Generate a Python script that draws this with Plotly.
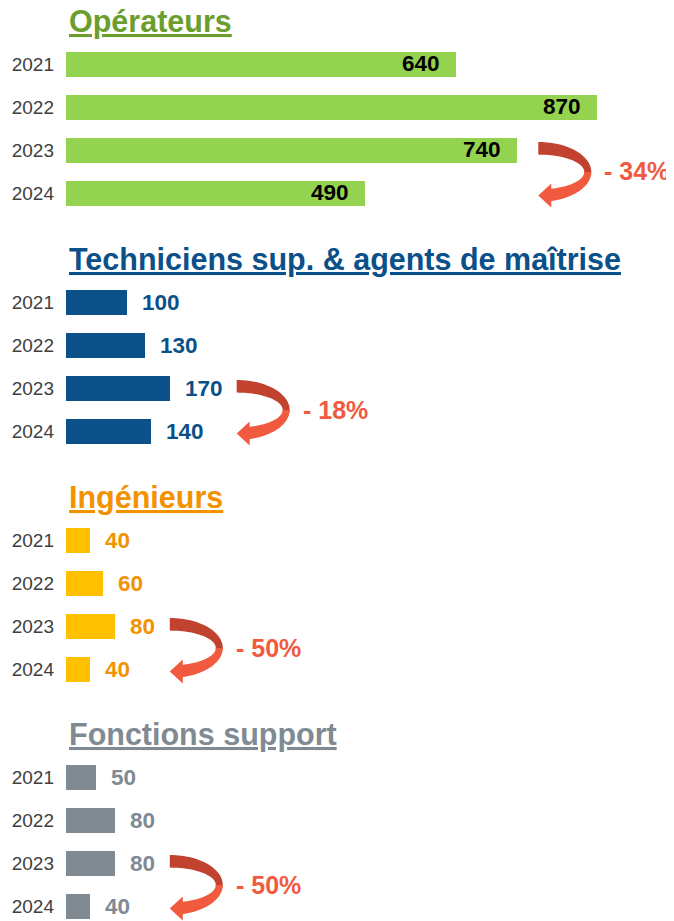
import numpy as np
import plotly.graph_objects as go

years = ["2021", "2022", "2023", "2024"]
titles = ["Opérateurs", "Techniciens sup. & agents de maîtrise", "Ingénieurs", "Fonctions support"]
operateurs = [640, 870, 740, 490]
techniciens = [100, 130, 170, 140]
ingenieurs = [40, 60, 80, 40]
support = [50, 80, 80, 40]
evolutions = ["- 34%", "- 18%", "- 50%", "- 50%"]

# the page body has an 8px margin, so the figure is 8px smaller than the window
W, H = 666, 913
L = 58
XMAX = 997
KX = (W - L) / XMAX   # px per unit
ROW = 43              # px per year row
FONT = "Liberation Sans, Arial, sans-serif"
RED_DARK = "#c1432f"
RED = "#f15a3f"

panels = [
    dict(values=operateurs, bar="#94d34f", title="#6b9e2c", label="#000000", inside=True, top=34.5),
    dict(values=techniciens, bar="#0b5088", title="#0b5088", label="#0b5088", inside=False, top=272.5),
    dict(values=ingenieurs, bar="#ffc000", title="#f39200", label="#f39200", inside=False, top=510.5),
    dict(values=support, bar="#7f8a93", title="#7f8a93", label="#7f8a93", inside=False, top=747.5),
]


def arrow_paths(x0, y0):
    # curved arrow, geometry in px offsets, converted to data units
    cy = 22
    ro = (53, 30)
    ri = (46, 17.4)

    def p(dx, dy):
        return "%.3f,%.4f" % (x0 + dx / KX, y0 + dy / ROW)

    def ell(r, angles):
        return [p(r[0] * np.cos(a), cy + r[1] * np.sin(a)) for a in angles]

    ao = np.arccos(13 / ro[0])
    ai = np.arccos(13 / ri[0])
    dark = ell(ro, np.linspace(-np.pi / 2, 0.08, 30)) + ell(ri, np.linspace(0.08, -np.pi / 2, 30))
    light = (ell(ro, np.linspace(0, ao, 30))
             + [p(13, 57.5), p(0, 45.5), p(13, 33.5)]
             + ell(ri, np.linspace(ai, 0, 30)))
    return ["M " + " L ".join(dark) + " Z", "M " + " L ".join(light) + " Z"]


fig = go.Figure()
annotations = []
shapes = []
ypos = list(range(len(years)))

for i, pnl in enumerate(panels):
    n = "" if i == 0 else str(i + 1)
    bottom = min(pnl["top"] + 4 * ROW, H)
    vals = pnl["values"]
    fig.add_trace(go.Bar(
        x=vals, y=ypos, orientation="h", width=0.58,
        marker=dict(color=pnl["bar"], line=dict(width=0)),
        xaxis="x" + n, yaxis="y" + n, hoverinfo="skip",
    ))
    fig.layout["xaxis" + n] = dict(domain=[0, 1], range=[0, XMAX], visible=False,
                                   anchor="y" + n, fixedrange=True, automargin=False)
    fig.layout["yaxis" + n] = dict(
        domain=[1 - bottom / H, 1 - pnl["top"] / H],
        range=[(bottom - pnl["top"]) / ROW - 0.5, -0.5],
        tickvals=ypos, ticktext=years, ticks="", showgrid=False, zeroline=False,
        showline=False, ticklabelstandoff=11, anchor="x" + n, automargin=False,
        tickfont=dict(family=FONT, size=19, color="#404040"), fixedrange=True,
    )
    # title
    annotations.append(dict(
        text="<b><u>%s</u></b>" % titles[i], xref="paper", x=0, xshift=1, xanchor="left",
        yref="y%s domain" % n, y=1, yanchor="middle", yshift=21, showarrow=False,
        font=dict(family=FONT, size=30.5, color=pnl["title"]),
    ))
    # value labels
    for y, v in zip(ypos, vals):
        if pnl["inside"]:
            annotations.append(dict(text="<b>%d</b>" % v, x=v, y=y, xref="x" + n, yref="y" + n,
                                    xanchor="right", xshift=-14, showarrow=False,
                                    font=dict(family=FONT, size=22.5, color=pnl["label"])))
        else:
            annotations.append(dict(text="<b>%d</b>" % v, x=v, y=y, xref="x" + n, yref="y" + n,
                                    xanchor="left", xshift=13, showarrow=False,
                                    font=dict(family=FONT, size=22.5, color=pnl["label"])))
    # evolution arrow 2023 -> 2024
    v23 = vals[2]
    if pnl["inside"]:
        x0 = v23 + 21 / KX
    else:
        x0 = v23 + (31 + 12 * len(str(v23))) / KX
    dark, light = arrow_paths(x0, 2)
    shapes.append(dict(type="path", path=dark, xref="x" + n, yref="y" + n,
                       fillcolor=RED_DARK, line=dict(width=0), layer="above"))
    shapes.append(dict(type="path", path=light, xref="x" + n, yref="y" + n,
                       fillcolor=RED, line=dict(width=0), layer="above"))
    annotations.append(dict(text="<b>%s</b>" % evolutions[i], x=x0 + 64 / KX, y=2.5,
                            xref="x" + n, yref="y" + n, xanchor="left", showarrow=False,
                            font=dict(family=FONT, size=25, color=RED)))

fig.update_layout(
    width=W, height=H, margin=dict(l=L, r=0, t=0, b=0, autoexpand=False),
    plot_bgcolor="white", paper_bgcolor="white", showlegend=False,
    annotations=annotations, shapes=shapes, bargap=0,
)

fig.write_html("out.html")
